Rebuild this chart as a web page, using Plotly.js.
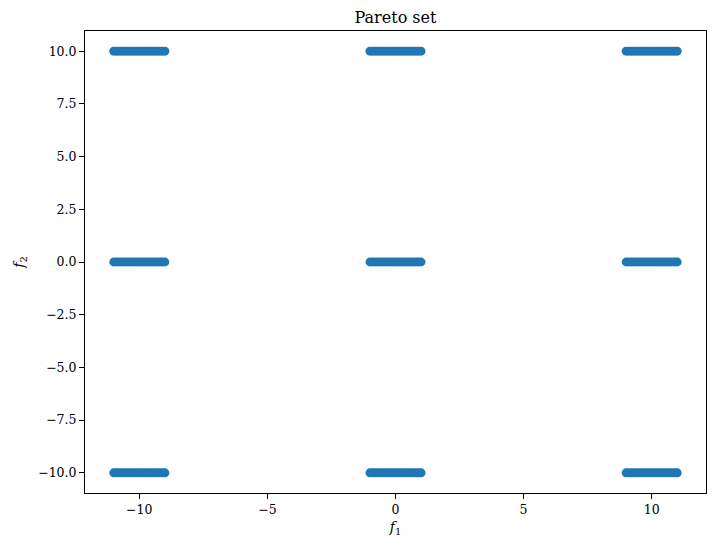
<!DOCTYPE html>
<html>
<head>
<meta charset="utf-8">
<script src="https://cdn.plot.ly/plotly-3.0.1.min.js"></script>
<style>html,body{margin:0;padding:0;background:#fff;}#chart{width:714px;height:550px;}</style>
</head>
<body>
<div id="chart"></div>
<script>
// Pareto-set samples: x positions of each cluster, and the y rows they appear on
const clusterLeftX  = [-11.0,-10.9,-10.8,-10.7,-10.6,-10.5,-10.4,-10.3,-10.2,-10.1,-10.0,-9.9,-9.8,-9.7,-9.6,-9.5,-9.4,-9.3,-9.2,-9.1,-9.0];
const clusterMidX   = [-1.0,-0.9,-0.8,-0.7,-0.6,-0.5,-0.4,-0.3,-0.2,-0.1,0.0,0.1,0.2,0.3,0.4,0.5,0.6,0.7,0.8,0.9,1.0];
const clusterRightX = [9.0,9.1,9.2,9.3,9.4,9.5,9.6,9.7,9.8,9.9,10.0,10.1,10.2,10.3,10.4,10.5,10.6,10.7,10.8,10.9,11.0];
const rowY = [10, 0, -10];
const xTickVals = [-10, -5, 0, 5, 10];
const yTickVals = [-10, -7.5, -5, -2.5, 0, 2.5, 5, 7.5, 10];

const xs = [], ys = [];
[clusterLeftX, clusterMidX, clusterRightX].forEach(c => {
  rowY.forEach(yv => { c.forEach(xv => { xs.push(xv); ys.push(yv); }); });
});

const font = {family: 'DejaVu Serif, serif', color: '#000'};
const axisCommon = {
  showline: true, mirror: true, linecolor: '#000', linewidth: 1,
  ticks: 'outside', ticklen: 5, tickwidth: 1, tickcolor: '#000',
  showgrid: false, zeroline: false,
  tickfont: {family: font.family, size: 12.5, color: '#000'}
};

const data = [{
  type: 'scatter', mode: 'markers', x: xs, y: ys,
  marker: {size: 8.8, color: '#1f77b4', line: {width: 0}},
  hoverinfo: 'x+y'
}];

const layout = {
  width: 714, height: 550,
  margin: {l: 85, r: 8, t: 31, b: 57},
  paper_bgcolor: '#fff', plot_bgcolor: '#fff',
  showlegend: false,
  font: font,
  title: {text: 'Pareto set', font: {family: font.family, size: 16, color: '#000'},
          x: 0.5, xref: 'paper', y: 1 - 17/550, yref: 'container', yanchor: 'middle'},
  xaxis: Object.assign({}, axisCommon, {
    range: [-12.12, 12.12], tickvals: xTickVals, ticktext: xTickVals.map(v => v < 0 ? '\u2212' + Math.abs(v) : String(v)),
    title: {text: '<i>f</i><sub>1</sub>', font: {family: font.family, size: 14, color: '#000'}, standoff: 6}
  }),
  yaxis: Object.assign({}, axisCommon, {
    range: [-10.96, 10.96], tickvals: yTickVals, ticktext: yTickVals.map(v => (v < 0 ? '\u2212' : '') + Math.abs(v).toFixed(1)),
    title: {text: '<i>f</i><sub>2</sub>', font: {family: font.family, size: 14, color: '#000'}, standoff: 10}
  })
};

Plotly.newPlot('chart', data, layout, {displayModeBar: false, staticPlot: true});
</script>
</body>
</html>
